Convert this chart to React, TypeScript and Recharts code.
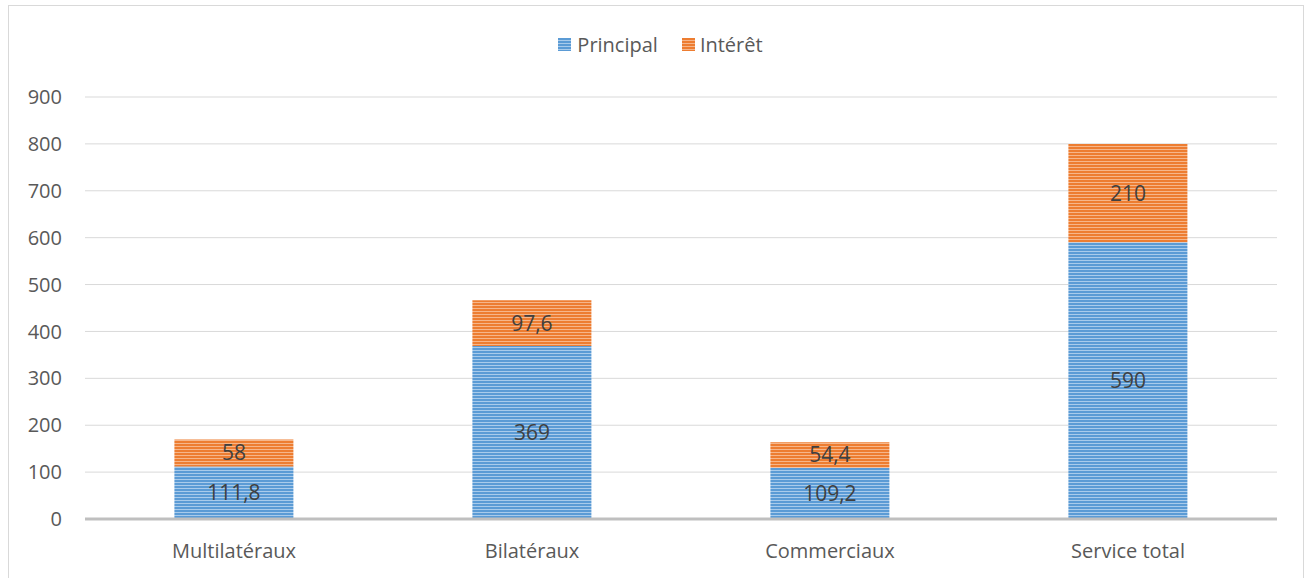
import React from 'react';
import { BarChart, Bar, XAxis, YAxis, CartesianGrid, Legend, LabelList } from 'recharts';

const categories = ['Multilatéraux', 'Bilatéraux', 'Commerciaux', 'Service total'];
const principal = [111.8, 369, 109.2, 590];
const interet = [58, 97.6, 54.4, 210];
const yTicks = [0, 100, 200, 300, 400, 500, 600, 700, 800, 900];

const data = categories.map((c, i) => ({ name: c, principal: principal[i], interet: interet[i] }));

const FONT = '"Open Sans", Lato, sans-serif';
const fmt = (v: any) => String(v).replace('.', ',');

const LegendContent = () => (
  <div style={{ display: 'flex', justifyContent: 'center', alignItems: 'center', fontFamily: FONT, fontSize: 20, color: '#595959', paddingLeft: 14 }}>
    <span style={{ display: 'inline-block', width: 13, height: 13, backgroundImage: 'repeating-linear-gradient(to bottom, #5B9BD5 0px, #5B9BD5 2px, #A9CBEB 2px, #A9CBEB 3px)', marginRight: 6 }} />
    <span style={{ marginRight: 24 }}>Principal</span>
    <span style={{ display: 'inline-block', width: 13, height: 13, backgroundImage: 'repeating-linear-gradient(to bottom, #ED7D31 0px, #ED7D31 2px, #F6B68A 2px, #F6B68A 3px)', marginRight: 5 }} />
    <span>Intérêt</span>
  </div>
);

export default function App() {
  return (
    <div style={{ position: 'absolute', left: 0, top: 0, width: 1307, height: 578, background: '#fff', overflow: 'hidden' }}>
      <svg width={0} height={0} style={{ position: 'absolute' }}>
        <defs>
          <pattern id="stripeBlue" width={4} height={3} patternUnits="userSpaceOnUse">
            <rect x={0} y={0} width={4} height={3} fill="#A9CBEB" />
            <rect x={0} y={0} width={4} height={2} fill="#5B9BD5" />
          </pattern>
          <pattern id="stripeOrange" width={4} height={3} patternUnits="userSpaceOnUse">
            <rect x={0} y={0} width={4} height={3} fill="#F6B68A" />
            <rect x={0} y={0} width={4} height={2} fill="#ED7D31" />
          </pattern>
        </defs>
      </svg>
      <div style={{ position: 'absolute', left: 8, top: 5, width: 1296, height: 600, border: '1px solid #d9d9d9', boxSizing: 'border-box' }} />
      <div style={{ position: 'absolute', left: 0, top: 0 }}>
        <BarChart width={1307} height={578} data={data} margin={{ top: 97, right: 30, bottom: 0, left: 0 }} barCategoryGap="30%">
          <CartesianGrid vertical={false} stroke="#d9d9d9" />
          <XAxis dataKey="name" height={59} tickLine={false} tickSize={0} tickMargin={25} axisLine={{ stroke: '#bfbfbf', strokeWidth: 3 }} tick={{ fill: '#595959', fontSize: 20, fontFamily: FONT }} />
          <YAxis width={85} domain={[0, 900]} ticks={yTicks} interval={0} axisLine={false} tickLine={false} tickSize={0} tickMargin={23} tick={{ fill: '#595959', fontSize: 20, fontFamily: FONT }} />
          <Legend verticalAlign="middle" align="center" wrapperStyle={{ top: 31, left: 0, width: 1307 }} content={<LegendContent />} />
          <Bar dataKey="principal" name="Principal" stackId="a" fill="url(#stripeBlue)" isAnimationActive={false}>
            <LabelList dataKey="principal" position="center" formatter={fmt} fill="#404040" fontSize={21} fontFamily={FONT} />
          </Bar>
          <Bar dataKey="interet" name="Intérêt" stackId="a" fill="url(#stripeOrange)" isAnimationActive={false}>
            <LabelList dataKey="interet" position="center" formatter={fmt} fill="#404040" fontSize={21} fontFamily={FONT} />
          </Bar>
        </BarChart>
      </div>
    </div>
  );
}
